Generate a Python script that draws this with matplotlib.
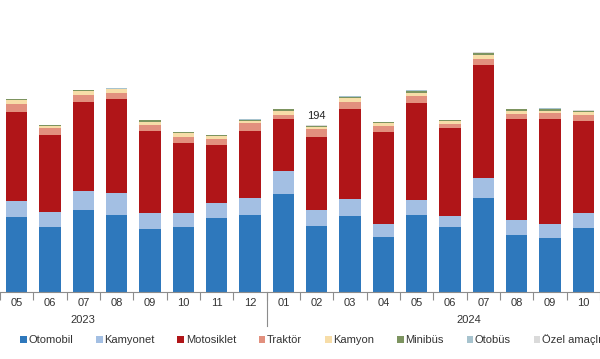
import numpy as np
import matplotlib.pyplot as plt
import matplotlib.transforms as mtransforms

plt.rcParams['font.family'] = ['Liberation Sans', 'DejaVu Sans']

# month labels, first visible bar is 2023/05
months = ["05", "06", "07", "08", "09", "10", "11", "12",
          "01", "02", "03", "04", "05", "06", "07", "08", "09", "10"]

# values (thousand units)
otomobil   = [87.3, 75.3, 95.1, 89.3, 72.9, 75.3, 85.4, 89.3,
              113.8, 76.4, 88.1, 63.6, 89.3, 75.3, 109.5, 65.9, 62.8, 74.4]
kamyonet   = [18.7, 17.2, 22.5, 25.3, 18.3, 16.0, 17.5, 20.2,
              27.2, 18.7, 19.8, 14.8, 17.5, 12.8, 23.3, 17.5, 16.0, 17.5]
motosiklet = [103.9, 90.2, 103.9, 110.0, 96.0, 82.4, 68.0, 77.8,
              60.3, 85.5, 105.0, 107.7, 113.5, 102.3, 131.5, 118.2, 122.9, 107.4]
traktor    = [9.0, 8.5, 7.8, 6.6, 7.0, 7.0, 6.6, 9.0,
              4.7, 8.6, 7.8, 7.0, 7.8, 5.0, 6.6, 5.5, 6.3, 6.6]
kamyon     = [4.7, 2.3, 4.7, 4.7, 3.9, 4.0, 3.9, 3.0,
              5.0, 2.3, 4.7, 3.2, 3.9, 3.9, 5.0, 3.9, 3.0, 3.2]
minibus    = [1.0, 0.8, 0.8, 0.8, 1.4, 1.0, 1.0, 1.1,
              1.4, 1.6, 1.9, 1.3, 2.1, 0.8, 2.1, 1.6, 2.4, 1.6]
otobus     = [0.3, 0.2, 0.2, 0.2, 0.4, 0.3, 0.3, 0.3,
              0.4, 0.5, 0.5, 0.4, 0.6, 0.2, 0.6, 0.4, 0.7, 0.4]
ozel       = [0.2, 0.2, 0.2, 0.2, 0.2, 0.2, 0.2, 0.2,
              0.2, 0.2, 0.3, 0.2, 0.4, 0.2, 0.4, 0.3, 0.4, 0.3]

years = ["2023", "2024"]
year_pos = [2.0, 13.55]

series = [
    ("Otomobil", otomobil, "#2E78BC"),
    ("Kamyonet", kamyonet, "#A3BFE3"),
    ("Motosiklet", motosiklet, "#B01518"),
    ("Traktör", traktor, "#E2907E"),
    ("Kamyon", kamyon, "#F7DDA8"),
    ("Minibüs", minibus, "#7D9460"),
    ("Otobüs", otobus, "#A7C3CE"),
    ("Özel amaçlı", ozel, "#DADADA"),
]

fig = plt.figure(figsize=(6, 3.59), dpi=100)
ax = fig.add_axes([0, 1 - 291.5 / 359, 1, 291.5 / 359])

x = np.arange(len(months))
bottom = np.zeros(len(months))
handles = []
for name, vals, col in series:
    b = ax.bar(x, vals, 0.64, bottom=bottom, color=col, label=name, linewidth=0)
    handles.append(b)
    bottom += np.array(vals)

# only the Feb 2024 total is labelled
ax.text(9, bottom[9] + 5, "194", ha="center", va="bottom", fontsize=8, color="#222222")

ax.set_xlim(-0.079, 17.41)
ax.set_ylim(0, 340)

for s in ["top", "right", "left"]:
    ax.spines[s].set_visible(False)
ax.spines["bottom"].set_color("#8C8C8C")
ax.spines["bottom"].set_linewidth(0.8)
ax.set_yticks([])

# separators between months
ax.set_xticks(np.arange(-0.5, len(months) + 0.5, 1))
ax.set_xticklabels([])
ax.tick_params(axis="x", which="major", length=6, color="#8C8C8C", width=0.8)
ax.set_xticks(x, minor=True)
ax.set_xticklabels(months, minor=True)
ax.tick_params(axis="x", which="minor", length=0, pad=5, labelsize=8, labelcolor="#333333")

# year separator
trans = mtransforms.blended_transform_factory(ax.transData, ax.transAxes)
ax.plot([7.5, 7.5], [0, -34 / 291.5], transform=trans, color="#8C8C8C", lw=0.8, clip_on=False)

for yr, xp in zip(years, year_pos):
    ax.annotate(yr, xy=(xp, 0), xycoords=("data", "axes fraction"),
                xytext=(0, -28.5 * 0.72), textcoords="offset points",
                ha="center", va="center", fontsize=8, color="#333333")

fig.legend(handles=handles, loc="center left", bbox_to_anchor=(20 / 600, 1 - 340 / 359),
           ncol=8, frameon=False, fontsize=8, handlelength=0.6, handleheight=0.6,
           handletextpad=0.15, columnspacing=2.05, borderpad=0, borderaxespad=0,
           labelcolor="#333333")

fig.savefig("out.png", dpi=100)
